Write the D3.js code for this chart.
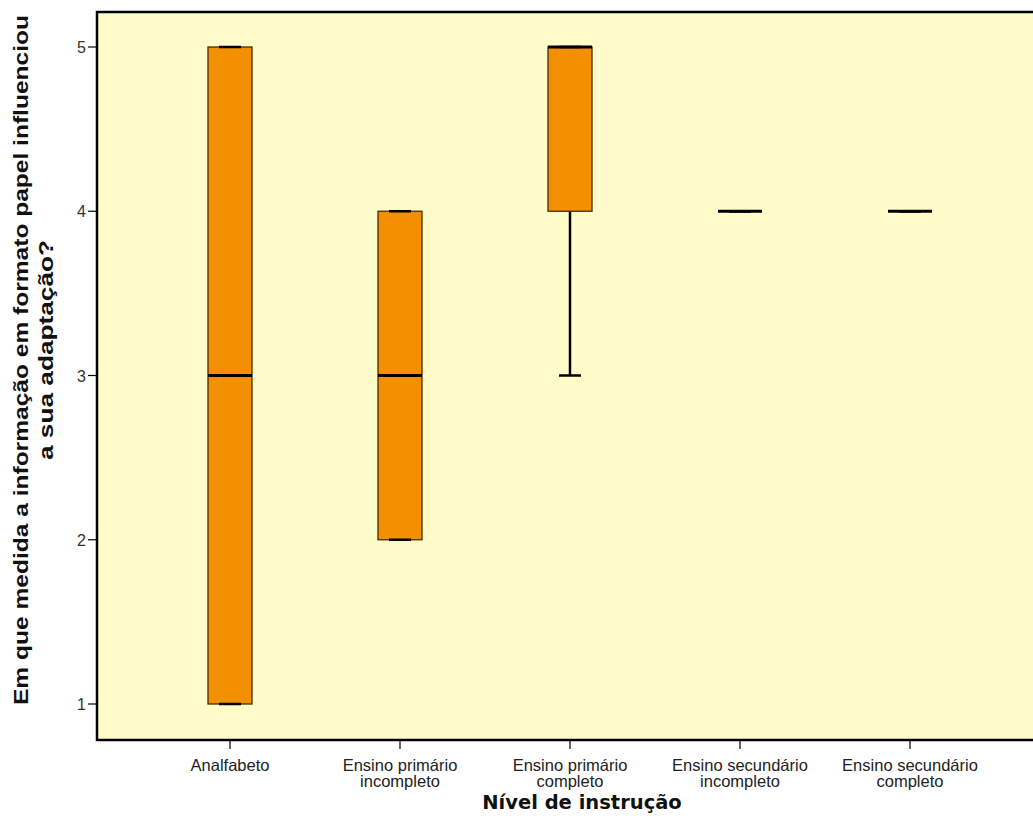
<!DOCTYPE html>
<html><head><meta charset="utf-8">
<script src="https://cdn.jsdelivr.net/npm/d3@7"></script>
<style>body{margin:0;background:#fff}</style>
</head><body>
<svg id="c" width="1033" height="836"></svg>
<script>
const categories = [["Analfabeto"],["Ensino primário","incompleto"],["Ensino primário","completo"],["Ensino secundário","incompleto"],["Ensino secundário","completo"]];
const mins    = [1, 2, 3, 4, 4];
const q1s     = [1, 2, 4, 4, 4];
const medians = [3, 3, 5, 4, 4];
const q3s     = [5, 4, 5, 4, 4];
const maxs    = [5, 4, 5, 4, 4];
const yTicks  = [1, 2, 3, 4, 5];
const xTitle = "Nível de instrução";
const yTitle = ["Em que medida a informação em formato papel influenciou","a sua adaptação?"];

const svg = d3.select("#c");
const L = 97, T = 12, R = 1040, B = 740;
const keys = categories.map(c => c.join(" "));
const x = d3.scalePoint().domain(keys).range([230, 910]);
const y = d3.scaleLinear().domain([1, 5]).range([704, 47]);

svg.append("rect").attr("x", L).attr("y", T).attr("width", R - L).attr("height", B - T)
  .attr("fill", "#FFFCC9").attr("stroke", "#000").attr("stroke-width", 2.5);

const data = keys.map((k, i) => ({k, min: mins[i], q1: q1s[i], med: medians[i], q3: q3s[i], max: maxs[i]}));
const bw = 44, cw = 22;
const g = svg.append("g");
data.forEach(d => {
  const cx = x(d.k);
  if (d.max > d.q3)
    g.append("line").attr("x1", cx).attr("x2", cx).attr("y1", y(d.q3)).attr("y2", y(d.max)).attr("stroke", "#000").attr("stroke-width", 2.5);
  if (d.min < d.q1)
    g.append("line").attr("x1", cx).attr("x2", cx).attr("y1", y(d.q1)).attr("y2", y(d.min)).attr("stroke", "#000").attr("stroke-width", 2.5);
  if (d.q3 > d.q1) {
    g.append("rect").attr("x", cx - bw/2).attr("y", y(d.q3)).attr("width", bw).attr("height", y(d.q1) - y(d.q3))
      .attr("fill", "#F39000").attr("stroke", "#4a2a05").attr("stroke-width", 1.3);
  }
  [d.min, d.max].forEach(v => {
    g.append("line").attr("x1", cx - cw/2).attr("x2", cx + cw/2).attr("y1", y(v)).attr("y2", y(v)).attr("stroke", "#000").attr("stroke-width", 2.5);
  });
  g.append("line").attr("x1", cx - bw/2).attr("x2", cx + bw/2).attr("y1", y(d.med)).attr("y2", y(d.med))
    .attr("stroke", "#000").attr("stroke-width", 3);
});

// y axis
const ya = svg.append("g");
yTicks.forEach(t => {
  ya.append("line").attr("x1", L - 9).attr("x2", L).attr("y1", y(t)).attr("y2", y(t)).attr("stroke", "#000").attr("stroke-width", 1.2);
  ya.append("text").attr("x", L - 11).attr("y", y(t) + 6).attr("text-anchor", "end")
    .attr("font-family", "Liberation Sans, Arial, sans-serif").attr("font-size", 16).attr("fill", "#333").text(t);
});
// x axis
const xa = svg.append("g");
categories.forEach((c, i) => {
  const cx = x(keys[i]);
  xa.append("line").attr("x1", cx).attr("x2", cx).attr("y1", B).attr("y2", B + 9).attr("stroke", "#000").attr("stroke-width", 1.2);
  c.forEach((line, j) => {
    xa.append("text").attr("x", cx).attr("y", 771 + j * 16).attr("text-anchor", "middle")
      .attr("font-family", "Liberation Sans, Arial, sans-serif").attr("font-size", 16.5).attr("fill", "#222").text(line);
  });
});
svg.append("text").attr("x", 582).attr("y", 809).attr("text-anchor", "middle")
  .attr("font-family", "DejaVu Sans, sans-serif").attr("font-weight", "bold").attr("font-size", 19.5).attr("fill", "#111").text(xTitle);
const yLens = [690, 220];
const yCenters = [360, 350];
yTitle.forEach((line, j) => {
  svg.append("text").attr("transform", `translate(${28 + j * 25},${yCenters[j]}) rotate(-90)`).attr("text-anchor", "middle")
    .attr("textLength", yLens[j]).attr("lengthAdjust", "spacingAndGlyphs")
    .attr("font-family", "Liberation Sans, Arial, sans-serif").attr("font-weight", "bold").attr("font-size", 21).attr("fill", "#111").text(line);
});
</script>
</body></html>
